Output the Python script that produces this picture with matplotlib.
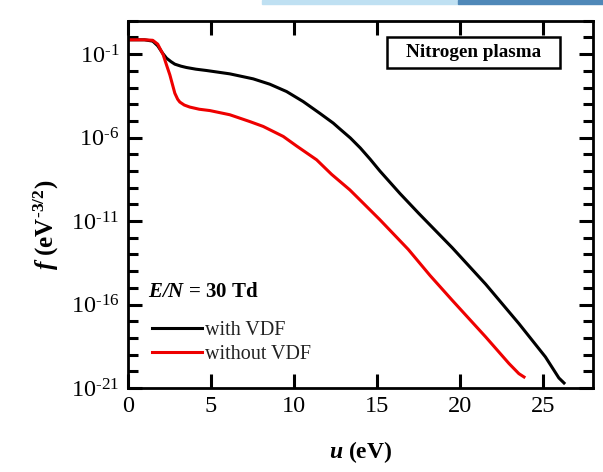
import numpy as np
import matplotlib
matplotlib.use('Agg')
import matplotlib.pyplot as plt
from matplotlib.ticker import FixedLocator, FuncFormatter, NullFormatter

plt.rcParams['font.family'] = ['Liberation Serif', 'DejaVu Serif']
plt.rcParams['mathtext.fontset'] = 'custom'
plt.rcParams['mathtext.rm'] = 'Liberation Serif'
plt.rcParams['mathtext.it'] = 'Liberation Serif:italic'
plt.rcParams['mathtext.bf'] = 'Liberation Serif:bold'
plt.rcParams['mathtext.bfit'] = 'Liberation Serif:bold:italic'

# energy u (eV) and log10 of f (eV^-3/2)
u_vdf = [0, 1.0, 1.5, 1.8, 2.1, 2.33, 2.6, 2.83, 3.2, 3.53, 4.1, 4.74, 6.14,
         7.55, 8.55, 9.56, 10.56, 11.57, 12.37, 12.77, 13.4, 14.0, 14.6,
         15.18, 16.39, 17.53, 19.54, 21.55, 23.55, 25.15, 25.96, 26.27]
logf_vdf = [-0.14, -0.14, -0.22, -0.5, -0.95, -1.24, -1.45, -1.6, -1.72,
            -1.80, -1.9, -1.98, -2.18, -2.48, -2.8, -3.24, -3.84, -4.55,
            -5.13, -5.48, -6.02, -6.62, -7.3, -8.0, -9.35, -10.55, -12.6,
            -14.78, -17.14, -19.14, -20.4, -20.7]

u_novdf = [0, 1.0, 1.5, 1.8, 2.13, 2.33, 2.53, 2.83, 3.0, 3.13, 3.4, 3.73,
           4.3, 4.94, 6.14, 7.35, 8.15, 9.36, 10.16, 11.37, 12.27, 13.37,
           14.17, 15.18, 16.89, 18.2, 19.54, 21.55, 22.96, 23.55, 23.86]
logf_novdf = [-0.14, -0.14, -0.17, -0.4, -1.04, -1.65, -2.24, -3.34, -3.7,
              -3.87, -4.05, -4.17, -4.3, -4.38, -4.63, -5.04, -5.33, -5.93,
              -6.5, -7.33, -8.2, -9.13, -9.92, -10.92, -12.7, -14.26,
              -15.75, -17.94, -19.54, -20.14, -20.34]

major_exp = [-21, -16, -11, -6, -1]
minor_exp = list(range(-21, 2))
x_ticks = [0, 5, 10, 15, 20, 25]

HY = '\u2010'  # short hyphen, as in the original tick labels

fig = plt.figure(figsize=(6.03, 4.72), dpi=100)
ax = fig.add_axes([0.212, 0.178, 0.771, 0.778])

ax.plot(u_vdf, 10.0 ** np.array(logf_vdf), color='black', lw=2.2,
        label='with VDF')
ax.plot(u_novdf, 10.0 ** np.array(logf_novdf), color='#ee0000', lw=2.2,
        label='without VDF')

ax.set_yscale('log')
ax.set_xlim(0, 28)
ax.set_ylim(1e-21, 1e1)
ax.yaxis.set_major_locator(FixedLocator([10.0 ** e for e in major_exp]))
ax.yaxis.set_minor_locator(FixedLocator([10.0 ** e for e in minor_exp]))
ax.yaxis.set_major_formatter(FuncFormatter(
    lambda v, pos: r'$\mathregular{10^{%s%d}}$' % (HY, -round(np.log10(v)))))
ax.yaxis.set_minor_formatter(NullFormatter())
ax.set_xticks(x_ticks)

for sp in ax.spines.values():
    sp.set_linewidth(2.0)
ax.tick_params(which='major', direction='in', length=10, width=2.2,
               top=True, right=True, labelsize=17.5, pad=6)
ax.tick_params(which='minor', direction='in', length=7, width=2.2,
               right=True)
ax.tick_params(axis='x', which='minor', bottom=False, top=False)

ax.set_xlabel(r'$\mathbfit{u}$ (eV)', fontsize=17, fontweight='bold',
              labelpad=16)
ax.set_ylabel(r'$\mathbfit{f}$ $\mathbf{(eV^{%s3/2})}$' % HY, fontsize=18)
ax.yaxis.set_label_coords(-0.143, 0.444)

# boxed title in the upper right corner
ax.add_patch(plt.Rectangle((0.557, 0.872), 0.372, 0.084,
                           transform=ax.transAxes, fc='white', ec='black',
                           lw=1.8, zorder=4))
ax.text(0.743, 0.914, 'Nitrogen plasma', transform=ax.transAxes,
        fontsize=13.8, fontweight='bold', ha='center', va='center',
        zorder=5)
ax.text(0.043, 0.262, r'$\mathbfit{E/N}$ = 30 Td', transform=ax.transAxes,
        fontsize=15, fontweight='bold', ha='left', va='center')
ax.legend(loc='lower left', bbox_to_anchor=(0.043, 0.055), frameon=False,
          fontsize=14.5, handlelength=2.5, handletextpad=0.12,
          labelspacing=0.25, borderpad=0.2, borderaxespad=0,
          labelcolor='#222222')

# thin slide banner at the top right of the screenshot
fig.patches.append(plt.Rectangle((262 / 603, 1 - 4 / 472), 196 / 603,
                                 4 / 472, transform=fig.transFigure,
                                 color='#bfe0f2', zorder=0))
fig.patches.append(plt.Rectangle((458 / 603, 1 - 4 / 472), 145 / 603,
                                 4 / 472, transform=fig.transFigure,
                                 color='#4f88b8', zorder=0))

fig.savefig('out.png', dpi=100)
